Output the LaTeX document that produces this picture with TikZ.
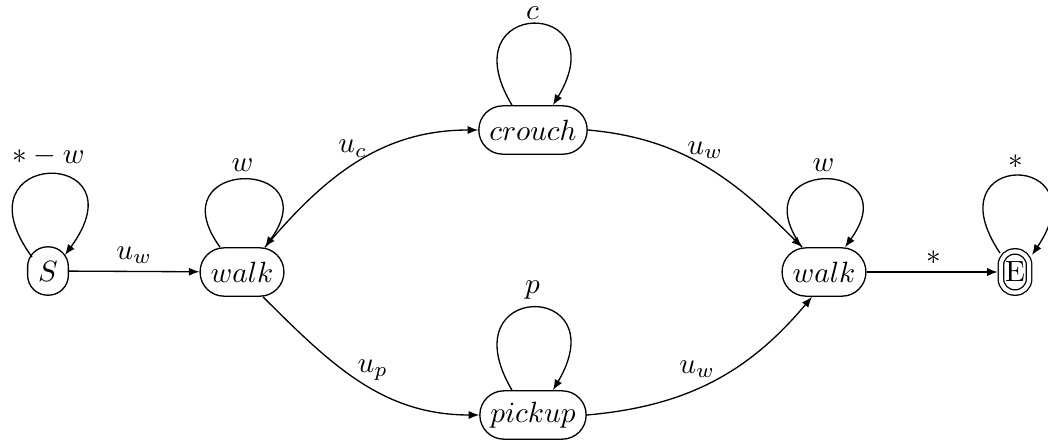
\documentclass[tikz,border=0pt]{standalone}
\usetikzlibrary{arrows.meta,calc}
\begin{document}
\begin{tikzpicture}[x=0.3413pt,y=0.3413pt,
  st/.style={draw, rounded corners=8.2pt, minimum height=16.5pt, inner xsep=3.6pt, inner ysep=0pt, line width=0.45pt},
  sst/.style={st, rounded corners=6.8pt},
  fin/.style={draw, double, double distance=1.4pt, rounded corners=4.6pt, minimum height=14pt, inner xsep=1.4pt, inner ysep=0pt, line width=0.45pt},
  arr/.style={-{Latex[length=3.6pt,width=2.8pt]}, line width=0.45pt},
  lbl/.style={inner sep=2.5pt}]
\useasboundingbox (0,0) rectangle (1048,443);
% states
\node[sst] (S)  at (48,172)  {$S$};
\node[st]  (w1) at (242,171) {$walk$};
\node[st]  (cr) at (533,313) {$crouch$};
\node[st]  (pk) at (533,28)  {$pickup$};
\node[st]  (w2) at (824,171) {$walk$};
\node[fin] (E)  at (1015,171) {E};
% self loops
\draw[arr] ($(S.center)+(-16,14)$) .. controls +(-80,109) and +(80,109) .. node[above,lbl]{$*-w$} ($(S.center)+(17,16)$);
\draw[arr] ($(w1.north)+(-22,0)$) .. controls +(-65,90) and +(65,90) .. node[above,lbl]{$w$} ($(w1.north)+(23,0)$);
\draw[arr] ($(cr.north)+(-21,0)$) .. controls +(-65,108) and +(65,108) .. node[above,inner sep=1.5pt]{$c$} ($(cr.north)+(20,0)$);
\draw[arr] ($(pk.north)+(-21,0)$) .. controls +(-65,110) and +(65,110) .. node[above,lbl]{$p$} ($(pk.north)+(20,0)$);
\draw[arr] ($(w2.north)+(-22,0)$) .. controls +(-65,90) and +(65,90) .. node[above,lbl]{$w$} ($(w2.north)+(21,0)$);
\draw[arr] ($(E.center)+(-15,19)$) .. controls +(-70,104) and +(70,104) .. node[above,lbl]{$*$} ($(E.center)+(17,17)$);
% transitions
\draw[arr] (S) -- node[above,lbl]{$u_w$} (w1);
\draw[arr] ($(w1.north)+(23,0)$) to[out=50,in=180] node[pos=0.47,above,lbl]{$u_c$} (cr.west);
\draw[arr] (cr.east) to[out=-5,in=135] node[pos=0.5,above,lbl]{$u_w$} ($(w2.north)+(-22,0)$);
\draw[arr] ($(w1.south)+(21,0)$) to[out=-45,in=180] node[pos=0.56,above,lbl]{$u_p$} (pk.west);
\draw[arr] (pk.east) to[out=5,in=-130] node[pos=0.43,above,inner sep=3.5pt]{$u_w$} ($(w2.south)+(-12,0)$);
\draw[arr, shorten >=0.9pt] (w2) -- node[above,lbl]{$*$} (E);
\end{tikzpicture}
\end{document}
